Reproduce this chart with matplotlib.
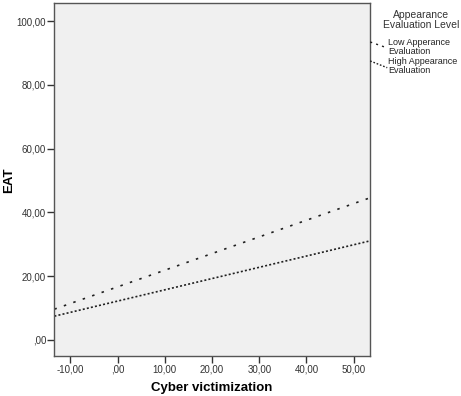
import matplotlib
matplotlib.use("Agg")
import matplotlib.pyplot as plt
import numpy as np

# fitted lines at the two ends of the x range
x_ends = np.array([-13.4, 53.4])
low_eval = np.array([9.6, 44.5])
high_eval = np.array([7.4, 31.0])

xticks = [-10, 0, 10, 20, 30, 40, 50]
yticks = [0, 20, 40, 60, 80, 100]

def comma(v):
    s = "%.2f" % v
    s = s.replace(".", ",")
    if s.startswith("0,"):
        s = s[1:]
    return s

plt.rcParams['font.family'] = ['Liberation Sans', 'DejaVu Sans']

fig = plt.figure(figsize=(4.61, 3.96), dpi=100)
ax = fig.add_axes([0.118, 0.101, 0.684, 0.891])
ax.set_facecolor("#f0f0f0")

ax.plot(x_ends, low_eval, color="#202020", lw=1.2, linestyle=(0, (1.5, 4.5)))
ax.plot(x_ends, high_eval, color="#202020", lw=1.2, linestyle=(0, (1.2, 1.3)))

ax.set_xlim(-13.4, 53.4)
ax.set_ylim(-5.1, 105.6)
ax.set_xticks(xticks)
ax.set_xticklabels([comma(v) for v in xticks], fontsize=7, color="#333333")
ax.set_yticks(yticks)
ax.set_yticklabels([comma(v) for v in yticks], fontsize=7, color="#333333")
ax.tick_params(length=5, width=1, color="#333333", pad=1)
for s in ax.spines.values():
    s.set_color("#555555")
    s.set_linewidth(1)

fig.text(0.46, 0.021, "Cyber victimization", fontsize=9.5, fontweight="bold",
         ha="center", va="center")
fig.text(0.02, 0.545, "EAT", fontsize=9.5, fontweight="bold", rotation=90,
         ha="center", va="center")

# legend drawn by hand to the right of the plot
fig.text(0.914, 0.962, "Appearance", fontsize=7.5, ha="center", va="center", color="#333333")
fig.text(0.914, 0.937, "Evaluation Level", fontsize=7.5, ha="center", va="center", color="#333333")
fig.text(0.842, 0.881, "Low Apperance\nEvaluation", fontsize=6.5, ha="left", va="center",
         linespacing=0.95, color="#222222")
fig.text(0.842, 0.833, "High Appearance\nEvaluation", fontsize=6.5, ha="left", va="center",
         linespacing=0.95, color="#222222")
fig.add_artist(plt.Line2D([0.803, 0.840], [0.894, 0.879], transform=fig.transFigure,
                          color="#202020", lw=1.0, linestyle=(0, (1.5, 3))))
fig.add_artist(plt.Line2D([0.803, 0.840], [0.846, 0.829], transform=fig.transFigure,
                          color="#202020", lw=1.0, linestyle=(0, (1.2, 1.3))))

fig.savefig("out.png", dpi=100)
